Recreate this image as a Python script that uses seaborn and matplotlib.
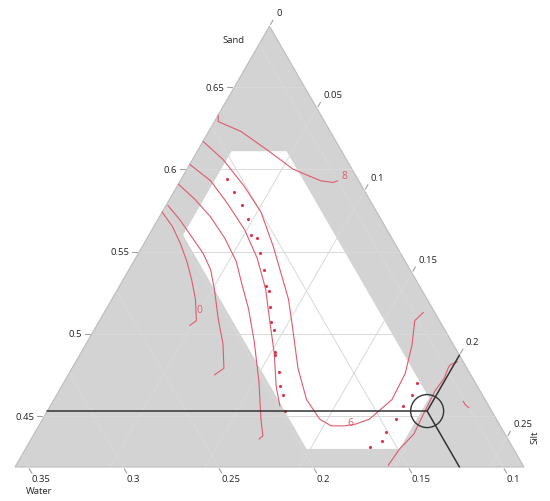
import numpy as np
import pandas as pd
import seaborn as sns
import matplotlib.pyplot as plt
from matplotlib import patches

sns.set_style("white")
plt.rcParams['font.family'] = ['Open Sans', 'DejaVu Sans']

# Ternary frame (L-pseudo simplex): lower bounds and common range
SAND_MIN, SILT_MIN, WATER_MIN, RANGE = 0.419, 0.0, 0.089, 0.268
TOTAL = SAND_MIN + SILT_MIN + WATER_MIN + RANGE

# Feasible region bounds
sand_bounds = (0.43, 0.611)
silt_bounds = (0.018, 0.197)
water_bounds = (0.118, 0.198)

# Axis ticks
sand_ticks = [0.45, 0.5, 0.55, 0.6, 0.65]
silt_ticks = [0, 0.05, 0.1, 0.15, 0.2, 0.25]
water_ticks = [0.1, 0.15, 0.2, 0.25, 0.3, 0.35]

# Contour lines (sand, silt)
c8_sand = [0.633, 0.629, 0.623, 0.612, 0.600, 0.593, 0.592, 0.593]
c8_silt = [0.000, 0.002, 0.017, 0.036, 0.056, 0.074, 0.081, 0.083]
c6_sand = [0.617, 0.606, 0.590, 0.574, 0.553, 0.533, 0.521, 0.505, 0.479, 0.460, 0.448, 0.444,
           0.444, 0.445, 0.448, 0.460, 0.476, 0.493, 0.508, 0.513]
c6_silt = [0.000, 0.016, 0.035, 0.052, 0.069, 0.084, 0.093, 0.103, 0.119, 0.133, 0.146, 0.154,
           0.161, 0.166, 0.172, 0.178, 0.177, 0.172, 0.166, 0.168]
c0_sand = [0.574, 0.565, 0.555, 0.544, 0.533, 0.521, 0.508, 0.505]
c0_silt = [0.000, 0.010, 0.019, 0.028, 0.036, 0.044, 0.051, 0.049]
cb_sand = [0.578, 0.569, 0.559, 0.549, 0.539, 0.527, 0.509, 0.494, 0.479, 0.475]
cb_silt = [0.001, 0.012, 0.023, 0.034, 0.043, 0.051, 0.062, 0.072, 0.080, 0.077]
cc_sand = [0.591, 0.582, 0.571, 0.558, 0.544, 0.530, 0.515, 0.495, 0.470, 0.448, 0.438, 0.436]
cc_silt = [0.000, 0.013, 0.027, 0.041, 0.054, 0.064, 0.075, 0.088, 0.103, 0.115, 0.121, 0.120]
cd_sand = [0.603, 0.593, 0.579, 0.563, 0.546, 0.527, 0.509, 0.488, 0.468, 0.456]
cd_silt = [0.000, 0.016, 0.032, 0.049, 0.064, 0.078, 0.089, 0.102, 0.113, 0.121]
r2_sand = [0.420, 0.430, 0.439, 0.451, 0.465, 0.473, 0.479, 0.481, 0.483]
r2_silt = [0.196, 0.197, 0.200, 0.199, 0.198, 0.199, 0.198, 0.198, 0.201]
rs_sand = [0.459, 0.457, 0.455]
rs_silt = [0.216, 0.218, 0.221]

# Dotted contour
dot_sand = [0.594, 0.586, 0.578, 0.570, 0.560, 0.558, 0.549, 0.539, 0.529, 0.526, 0.516, 0.507,
            0.502, 0.489, 0.487, 0.477, 0.468, 0.463, 0.453,
            0.470, 0.463, 0.456, 0.448, 0.440, 0.435, 0.431]
dot_silt = [0.024, 0.032, 0.040, 0.047, 0.054, 0.058, 0.064, 0.071, 0.077, 0.080, 0.086, 0.091,
            0.095, 0.102, 0.103, 0.110, 0.115, 0.119, 0.125,
            0.186, 0.187, 0.186, 0.186, 0.185, 0.185, 0.181]

# Contour labels (text, sand, silt)
label_text = ['8', '6', '0']
label_sand = [0.596, 0.446, 0.515]
label_silt = [0.085, 0.163, 0.049]

# Current setting (crosshair)
cur_sand, cur_silt = 0.453, 0.200

RED = '#e05a6e'
GRID = '#d9d9d9'
TICK = '#a0a0a0'


def tern(sand, silt):
    a = (np.asarray(sand) - SAND_MIN) / RANGE
    b = (np.asarray(silt) - SILT_MIN) / RANGE
    return b + a / 2, a * np.sqrt(3) / 2


fig = plt.figure(figsize=(5.5, 5.02), dpi=100)
ax = fig.add_axes([0, 0, 1, 1])
ax.set_xlim(-15 / 509, 535 / 509)
ax.set_ylim(-34 / 509, 468 / 509)
ax.axis('off')

# Triangle (gray) and feasible region (white)
s_max = SAND_MIN + RANGE
tri = tern([s_max, SAND_MIN, SAND_MIN], [SILT_MIN, SILT_MIN, SILT_MIN + RANGE])
ax.add_patch(patches.Polygon(np.column_stack(tri), closed=True, fc='#d3d3d3', ec='#bcbcbc', lw=0.8, zorder=0))

s_lo, s_hi = sand_bounds
t_lo, t_hi = silt_bounds
w_lo, w_hi = water_bounds
hex_sand = [s_hi, s_hi, TOTAL - w_lo - t_hi, s_lo, s_lo, TOTAL - w_hi - t_lo]
hex_silt = [t_lo, TOTAL - s_hi - w_lo, t_hi, t_hi, TOTAL - s_lo - w_hi, t_lo]
ax.add_patch(patches.Polygon(np.column_stack(tern(hex_sand, hex_silt)), closed=True, fc='white', ec='none', zorder=0.5))

# Grid lines and ticks
L = 7 / 509
d = 3 / 509
for v in sand_ticks:
    x, y = tern([v, v], [SILT_MIN, TOTAL - v - WATER_MIN])
    ax.plot(x, y, color=GRID, lw=0.7, zorder=1)
    ax.plot([x[0] - L, x[0] - 2 / 509], [y[0], y[0]], color=TICK, lw=0.8)
    ax.text(x[0] - L - d, y[0], f'{v:g}', ha='right', va='center', fontsize=6.8, color='#222222')
for v in silt_ticks:
    x, y = tern([TOTAL - v - WATER_MIN, SAND_MIN], [v, v])
    if 0 < v:
        ax.plot(x, y, color=GRID, lw=0.7, zorder=1)
    ex, ey = x[0] + L * 0.5, y[0] + L * 0.866
    ax.plot([x[0] + 1 / 509, ex], [y[0] + 1.7 / 509, ey], color=TICK, lw=0.8)
    ax.text(ex + d, ey + d, f'{v:g}', ha='left', va='bottom', fontsize=6.8, color='#222222')
for v in water_ticks:
    x, y = tern([TOTAL - v - SILT_MIN, SAND_MIN], [SILT_MIN, TOTAL - v - SAND_MIN])
    ax.plot(x, y, color=GRID, lw=0.7, zorder=1)
    ex, ey = x[1] + L * 0.5, y[1] - L * 0.866
    ax.plot([x[1] + 1 / 509, ex], [y[1] - 1.7 / 509, ey], color=TICK, lw=0.8)
    ax.text(ex, ey - 1 / 509, f'{v:g}', ha='left', va='top', fontsize=6.8, color='#222222')

ax.text(0.430, 0.839, 'Sand', ha='center', va='center', fontsize=6.8, color='#222222')
ax.text(0.047, -0.047, 'Water', ha='center', va='center', fontsize=6.8, color='#222222')
ax.text(1.022, 0.061, 'Silt', ha='center', va='center', fontsize=6.8, rotation=90, color='#222222')

# Contours
curves = {'c8': (c8_sand, c8_silt), 'c6': (c6_sand, c6_silt), 'c0': (c0_sand, c0_silt),
          'cb': (cb_sand, cb_silt), 'cc': (cc_sand, cc_silt), 'cd': (cd_sand, cd_silt),
          'r2': (r2_sand, r2_silt), 'rs': (rs_sand, rs_silt)}
frames = []
for name, (sa, si) in curves.items():
    x, y = tern(sa, si)
    frames.append(pd.DataFrame({'x': x, 'y': y, 'curve': name}))
df = pd.concat(frames, ignore_index=True)
sns.lineplot(data=df, x='x', y='y', units='curve', estimator=None, sort=False,
             color=RED, lw=0.8, ax=ax, zorder=3)

dx, dy = tern(dot_sand, dot_silt)
sns.scatterplot(x=dx, y=dy, color='#e0304a', s=5, linewidth=0, ax=ax, zorder=3)

lx, ly = tern(label_sand, label_silt)
for t, x, y in zip(label_text, lx, ly):
    ax.text(x, y, t, color=RED, fontsize=7.5, ha='center', va='center', zorder=4)

# Crosshair
cur_water = TOTAL - cur_sand - cur_silt
px, py = tern(cur_sand, cur_silt)
ends = [tern(cur_sand, SILT_MIN),
        tern(TOTAL - cur_silt - WATER_MIN, cur_silt),
        tern(SAND_MIN, TOTAL - cur_water - SAND_MIN)]
for ex, ey in ends:
    ax.plot([px, ex], [py, ey], color='#333333', lw=1.1, zorder=5)
ax.add_patch(patches.Circle((px, py), 16.5 / 509, fill=False, ec='#333333', lw=1.0, zorder=5))

ax.set_xlabel('')
ax.set_ylabel('')
fig.savefig('out.png', dpi=100)
